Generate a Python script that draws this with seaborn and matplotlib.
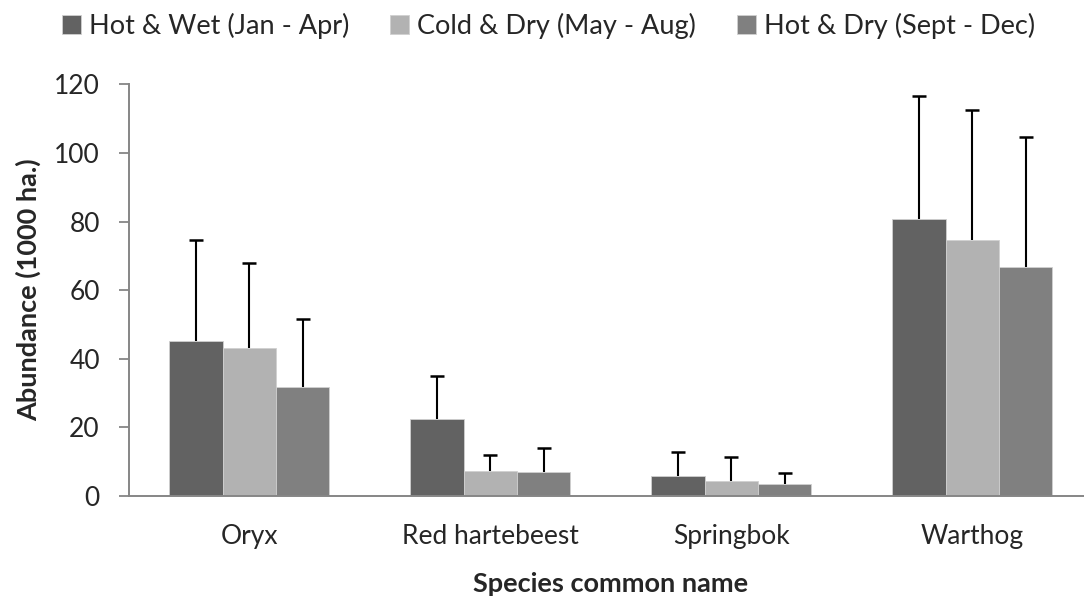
import pandas as pd
import matplotlib.pyplot as plt
import seaborn as sns

# ==================================================
# Daten
# ==================================================
species = ["Oryx", "Red hartebeest", "Springbok", "Warthog"]
seasons = ["Hot & Wet (Jan - Apr)", "Cold & Dry (May - Aug)", "Hot & Dry (Sept - Dec)"]
colors = ["#626262", "#b2b2b2", "#808080"]

hot_wet = [45.1, 22.4, 5.7, 80.8]
cold_dry = [43.1, 7.2, 4.4, 74.5]
hot_dry = [31.7, 7.0, 3.5, 66.8]

hot_wet_sd = [29.4, 12.6, 7.0, 35.9]
cold_dry_sd = [24.8, 4.9, 7.0, 38.1]
hot_dry_sd = [20.0, 7.1, 3.3, 37.8]

means = [hot_wet, cold_dry, hot_dry]
sds = [hot_wet_sd, cold_dry_sd, hot_dry_sd]

df = pd.DataFrame({
    "Species": species * 3,
    "Season": [s for s in seasons for _ in species],
    "Abundance": hot_wet + cold_dry + hot_dry,
})

# ==================================================
# Plot
# ==================================================
sns.set_theme(style="white")
plt.rcParams["font.family"] = ["Lato", "DejaVu Sans"]

fig = plt.figure(figsize=(10.84, 6.02), dpi=100)
ax = fig.add_axes([0.119, 0.176, 0.889, 0.684])

sns.barplot(data=df, x="Species", y="Abundance", hue="Season", hue_order=seasons,
            palette=colors, saturation=1, width=0.664, errorbar=None,
            edgecolor="#d0d0d0", linewidth=0.6, ax=ax)

# nur obere Fehlerbalken (wie in Excel "Plus")
for cont, sd in zip(ax.containers, sds):
    xs = [b.get_x() + b.get_width() / 2 for b in cont]
    hs = [b.get_height() for b in cont]
    tops = [h + s for h, s in zip(hs, sd)]
    ax.errorbar(xs, hs, yerr=[[0] * len(sd), sd], fmt="none", ecolor="black",
                elinewidth=1.5, capsize=0, zorder=3)
    ax.plot(xs, tops, ls="none", marker="_", markersize=10, mew=1.8, color="black", zorder=3)

ax.set_ylim(0, 120)
ax.set_yticks(range(0, 121, 20))
ax.set_xlim(-0.5, 3.5)
ax.set_ylabel("Abundance (1000 ha.)", fontsize=19.5, fontweight="bold", labelpad=9)
ax.set_xlabel("Species common name", fontsize=19.5, fontweight="bold", labelpad=17)
ax.tick_params(axis="y", labelsize=19, length=7, width=1.3, color="#868686", direction="out", left=True, pad=14)
ax.tick_params(axis="x", labelsize=19, length=0, pad=20)

sns.despine(ax=ax)
for side in ["left", "bottom"]:
    ax.spines[side].set_color("#868686")
    ax.spines[side].set_linewidth(1.4)

handles, labels = ax.get_legend_handles_labels()
ax.get_legend().remove()
fig.legend(handles, labels, loc="center", bbox_to_anchor=(0.506, 0.957), ncol=3,
           frameon=False, fontsize=19.5, handlelength=0.7, handleheight=0.7,
           handletextpad=0.3, columnspacing=1.5)

plt.savefig("out.png", dpi=100)
plt.close()
